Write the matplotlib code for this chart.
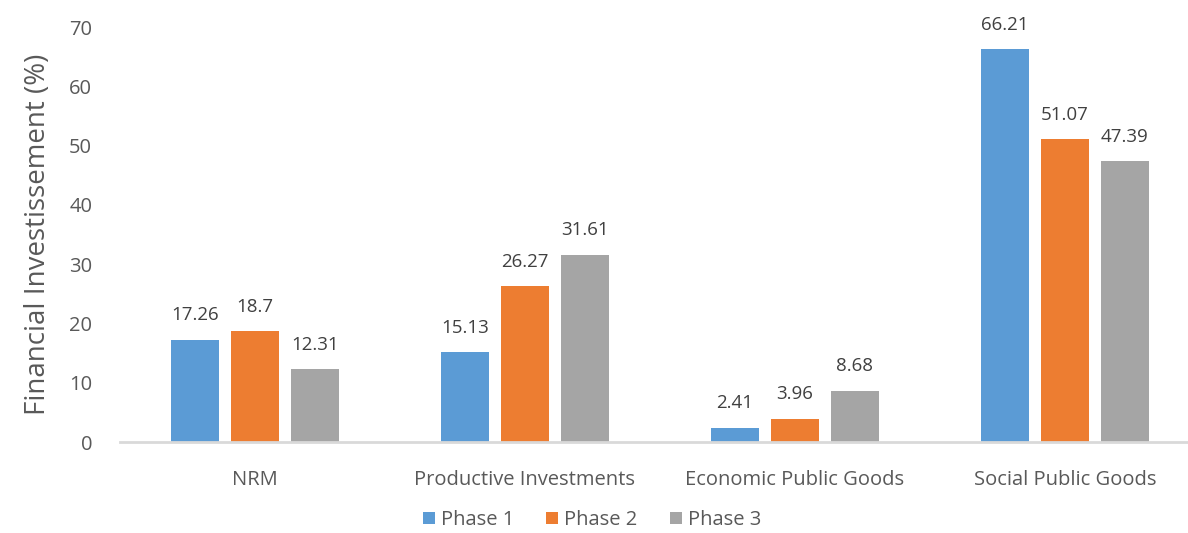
import matplotlib
matplotlib.use("Agg")
import matplotlib.pyplot as plt
import numpy as np

# Data
categories = ["NRM", "Productive Investments", "Economic Public Goods", "Social Public Goods"]
phase1 = [17.26, 15.13, 2.41, 66.21]
phase2 = [18.7, 26.27, 3.96, 51.07]
phase3 = [12.31, 31.61, 8.68, 47.39]
series_names = ["Phase 1", "Phase 2", "Phase 3"]
colors = ["#5B9BD5", "#ED7D31", "#A5A5A5"]

plt.rcParams['font.family'] = ['Open Sans', 'DejaVu Sans']
text_color = '#595959'

fig = plt.figure(figsize=(11.88, 5.33), dpi=100)
ax = fig.add_axes([120 / 1188, 0.1707, 1080 / 1188, 0.7786])

x = np.arange(len(categories))
width = 0.178
step = 0.222

for i, (vals, name, c) in enumerate(zip([phase1, phase2, phase3], series_names, colors)):
    bars = ax.bar(x + (i - 1) * step, vals, width, color=c, label=name, zorder=2)
    for bar, v in zip(bars, vals):
        ax.text(bar.get_x() + bar.get_width() / 2, v + 2.6, f"{v:g}",
                ha='center', va='bottom', fontsize=13.5, color='#404040')

ax.set_xlim(-0.5, len(categories) - 0.5)
ax.set_ylim(0, 70)
ax.set_yticks(np.arange(0, 71, 10))
ax.set_xticks(x)
ax.set_xticklabels(categories)
ax.tick_params(axis='both', length=0, labelsize=14.5, colors=text_color)
ax.tick_params(axis='y', pad=20)
ax.tick_params(axis='x', pad=20)

for s in ['top', 'right', 'left']:
    ax.spines[s].set_visible(False)
ax.spines['bottom'].set_color('#D9D9D9')
ax.spines['bottom'].set_linewidth(2)

ax.set_ylabel("Financial Investissement (%)", fontsize=20, color=text_color, labelpad=12)

fig.legend(loc='center', bbox_to_anchor=(592 / 1188, 1 - 520 / 533), ncol=3, frameon=False,
           fontsize=14.5, labelcolor=text_color, handlelength=0.6, handleheight=0.6,
           handletextpad=0.3, columnspacing=1.6, borderpad=0.2)

fig.savefig("out.png", dpi=100, facecolor='white')
